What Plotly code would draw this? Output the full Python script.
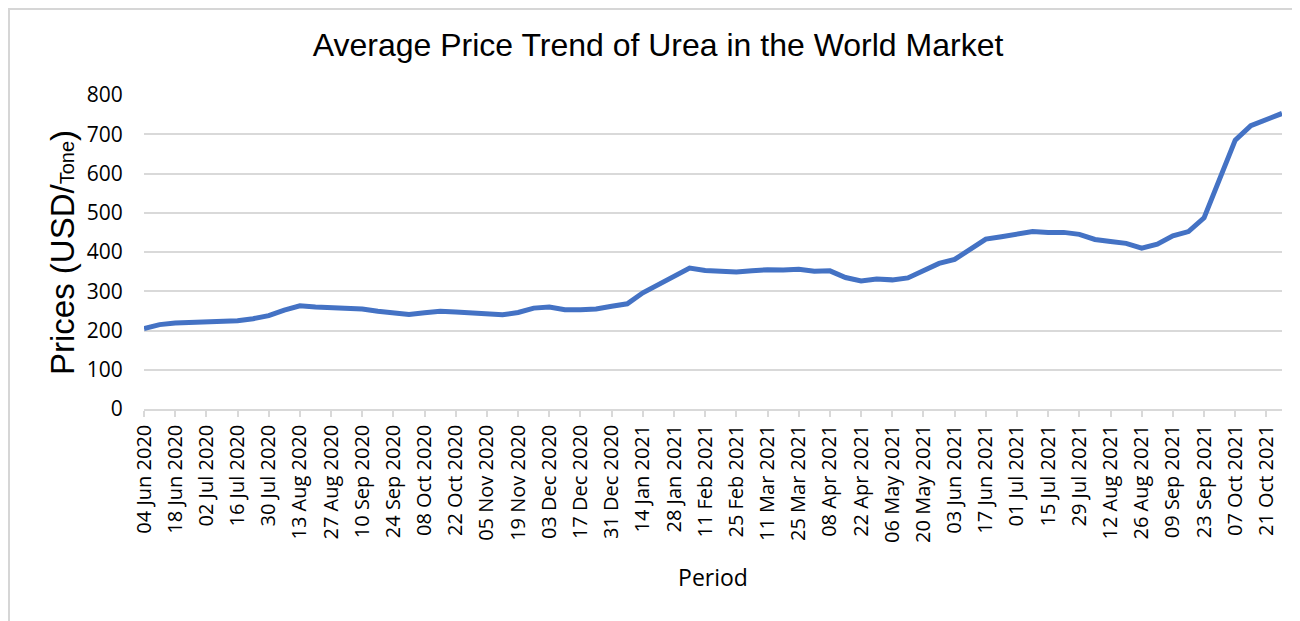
import plotly.graph_objects as go

dates = [
    "04 Jun 2020", "11 Jun 2020", "18 Jun 2020", "25 Jun 2020", "02 Jul 2020", "09 Jul 2020",
    "16 Jul 2020", "23 Jul 2020", "30 Jul 2020", "06 Aug 2020", "13 Aug 2020", "20 Aug 2020",
    "27 Aug 2020", "03 Sep 2020", "10 Sep 2020", "17 Sep 2020", "24 Sep 2020", "01 Oct 2020",
    "08 Oct 2020", "15 Oct 2020", "22 Oct 2020", "29 Oct 2020", "05 Nov 2020", "12 Nov 2020",
    "19 Nov 2020", "26 Nov 2020", "03 Dec 2020", "10 Dec 2020", "17 Dec 2020", "24 Dec 2020",
    "31 Dec 2020", "07 Jan 2021", "14 Jan 2021", "21 Jan 2021", "28 Jan 2021", "04 Feb 2021",
    "11 Feb 2021", "18 Feb 2021", "25 Feb 2021", "04 Mar 2021", "11 Mar 2021", "18 Mar 2021",
    "25 Mar 2021", "01 Apr 2021", "08 Apr 2021", "15 Apr 2021", "22 Apr 2021", "29 Apr 2021",
    "06 May 2021", "13 May 2021", "20 May 2021", "27 May 2021", "03 Jun 2021", "10 Jun 2021",
    "17 Jun 2021", "24 Jun 2021", "01 Jul 2021", "08 Jul 2021", "15 Jul 2021", "22 Jul 2021",
    "29 Jul 2021", "05 Aug 2021", "12 Aug 2021", "19 Aug 2021", "26 Aug 2021", "02 Sep 2021",
    "09 Sep 2021", "16 Sep 2021", "23 Sep 2021", "30 Sep 2021", "07 Oct 2021", "14 Oct 2021",
    "21 Oct 2021", "28 Oct 2021",
]

prices = [
    205, 215, 219, 220, 221, 223, 225, 230, 238, 252, 263, 260,
    258, 258, 255, 249, 244, 241, 245, 249, 247, 244, 242, 240,
    246, 257, 260, 253, 253, 255, 262, 268, 296, 318, 338, 359,
    353, 350, 349, 352, 355, 354, 356, 351, 352, 335, 326, 331,
    329, 334, 352, 371, 381, 406, 433, 439, 446, 452, 450, 450,
    445, 432, 427, 422, 410, 420, 441, 452, 487, 585, 685, 722,
    739, 753,
]

tick_labels = dates[::2]
y_ticks = [0, 100, 200, 300, 400, 500, 600, 700, 800]

OFF = 8  # page body margin
W, H = 1300 - OFF, 621 - OFF
L, T = 144 - OFF, 95 - OFF
R = W - (1282 - OFF)
B = H - (409 - OFF)
pw, ph = W - L - R, H - T - B


def px(x):
    return (x - OFF - L) / pw


def py(y):
    return (H - B - (y - OFF)) / ph


fig = go.Figure()
fig.add_trace(go.Scatter(
    x=dates, y=prices, mode="lines",
    line=dict(color="#4472C4", width=5),
    showlegend=False,
))

fig.update_layout(
    width=W, height=H,
    margin=dict(l=L, r=R, t=T, b=B),
    paper_bgcolor="white",
    plot_bgcolor="white",
    title=dict(
        text="Average Price Trend of Urea in the World Market",
        x=(658 - OFF) / W, xref="container", xanchor="center",
        y=1 - (45 - OFF) / H, yref="container", yanchor="middle",
        font=dict(family="Liberation Sans, Arial", size=32, color="#000000"),
    ),
    xaxis=dict(
        type="category",
        range=[0, len(dates) - 1],
        tickmode="array", tickvals=tick_labels, ticktext=tick_labels,
        tickangle=-90,
        tickfont=dict(family="Open Sans", size=20, color="#000000"),
        ticks="outside", ticklen=6, tickcolor="#d9d9d9", tickwidth=1.5,
        showline=True, linecolor="#d9d9d9", linewidth=1.5,
        showgrid=False, zeroline=False,
        title=dict(text="Period", font=dict(family="Open Sans", size=23, color="#000000"), standoff=28),
    ),
    yaxis=dict(
        range=[0, 800],
        tickmode="array", tickvals=y_ticks,
        tickfont=dict(family="Open Sans", size=21, color="#000000"),
        ticks="outside", ticklen=16, tickcolor="rgba(0,0,0,0)",
        showgrid=True, gridcolor="#d9d9d9", gridwidth=1.5,
        zeroline=False, showline=False,
    ),
    shapes=[dict(
        type="rect", xref="paper", yref="paper", layer="below",
        x0=px(9), x1=px(1310), y0=py(9), y1=py(640),
        fillcolor="rgba(0,0,0,0)", line=dict(color="#d6d6d6", width=2),
    )],
    annotations=[dict(
        text="Prices (USD/<span style='font-size:20px'>Tone</span>)",
        xref="paper", yref="paper", x=px(62), y=py(253),
        xanchor="center", yanchor="middle", textangle=-90, showarrow=False,
        font=dict(family="Liberation Sans, Arial", size=33, color="#000000"),
    )],
)

fig.write_html("out.html")
